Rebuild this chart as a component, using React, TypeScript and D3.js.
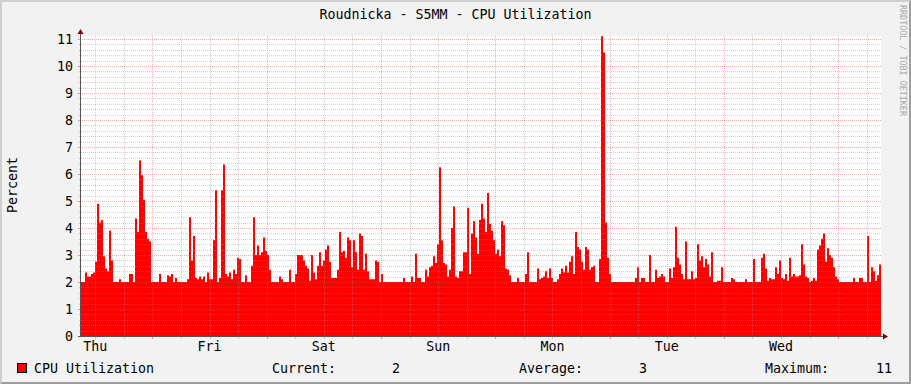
import React from "react";
import * as d3 from "d3";

// ---- data ----
const dayLabels = ["Thu", "Fri", "Sat", "Sun", "Mon", "Tue", "Wed"];
const yTicks = [0, 1, 2, 3, 4, 5, 6, 7, 8, 9, 10, 11];
const legendLabels = ["Current:", "Average:", "Maximum:"];
const legendValues = ["2", "3", "11"];
const seriesName = "CPU Utilization";
const titleText = "Roudnicka - S5MM - CPU Utilization";
const yAxisTitle = "Percent";
const watermark = "RRDTOOL / TOBI OETIKER";
// hours after Thursday 00:00 at the left edge, and span of the graph
const startHour = 9;
const spanHours = 168;

// CPU utilization samples (Thu morning .. Wed evening)
const cpuThuFri = [
  2.0, 2.0, 2.35, 2.2, 2.2, 2.3, 2.35, 2.75, 4.9, 4.2,
  4.3, 2.95, 2.5, 2.4, 3.9, 2.8, 2.0, 2.0, 2.0, 2.1,
  2.0, 2.0, 2.0, 2.0, 2.3, 2.3, 2.0, 4.35, 3.85, 6.5,
  5.95, 5.05, 3.85, 3.6, 3.5, 2.0, 2.0, 2.0, 2.0, 2.3,
  2.0, 2.0, 2.0, 2.25, 2.2, 2.3, 2.0, 2.15, 2.0, 2.0,
  2.0, 2.0, 2.0, 2.1, 4.4, 2.8, 3.7, 2.15, 2.1, 2.2,
  2.1, 2.2, 2.0, 2.35, 2.1, 2.1, 3.55, 5.4, 2.0, 2.15,
  5.4, 6.35, 2.3, 2.2, 2.35, 2.1, 2.45, 2.3, 2.9, 2.85,
  2.0, 2.0, 2.25, 2.0, 2.0, 2.6, 4.4, 3.0, 3.35, 3.0,
  3.1, 3.65, 3.15, 3.0, 2.45, 2.0, 2.0, 2.0, 2.0, 2.2,
];
const cpuSatSun = [
  2.1, 2.0, 2.0, 2.0, 2.45, 2.0, 2.0, 2.3, 3.0, 3.0,
  3.0, 2.8, 2.6, 2.5, 2.05, 3.0, 2.35, 2.1, 2.6, 3.1,
  2.6, 2.8, 3.2, 3.35, 2.75, 2.15, 2.15, 2.15, 2.45, 3.85,
  3.1, 3.15, 2.9, 3.65, 3.55, 2.55, 3.55, 3.1, 2.45, 3.8,
  3.7, 2.45, 3.05, 2.4, 2.1, 2.1, 2.1, 2.8, 2.75, 2.0,
  2.3, 2.0, 2.0, 2.0, 2.0, 2.0, 2.0, 2.0, 2.0, 2.0,
  2.0, 2.15, 2.0, 2.0, 2.0, 2.2, 2.0, 3.05, 2.15, 2.15,
  2.0, 2.0, 2.45, 2.2, 2.55, 2.6, 2.95, 2.7, 3.4, 6.25,
  3.55, 2.7, 2.65, 2.2, 2.45, 4.0, 4.8, 2.2, 2.15, 2.4,
  2.4, 3.1, 3.1, 4.75, 2.3, 3.8, 4.25, 3.65, 3.05, 4.3,
];
const cpuSunMon = [
  4.9, 4.35, 3.85, 5.3, 4.15, 3.9, 3.55, 3.05, 3.2, 2.95,
  4.25, 4.1, 2.5, 2.45, 2.25, 2.0, 2.0, 2.0, 2.15, 2.0,
  2.0, 2.0, 2.3, 3.1, 2.0, 2.0, 2.0, 2.0, 2.5, 2.1,
  2.15, 2.2, 2.4, 2.15, 2.5, 2.15, 2.0, 2.0, 2.1, 2.3,
  2.5, 2.35, 2.6, 2.35, 2.75, 2.95, 2.3, 3.85, 3.3, 3.2,
  2.75, 2.45, 3.3, 3.2, 2.45, 2.55, 2.6, 2.0, 2.0, 2.85,
  11.1, 10.5, 4.2, 2.9, 2.3, 2.0, 2.0, 2.0, 2.0, 2.0,
  2.0, 2.0, 2.0, 2.0, 2.0, 2.0, 2.0, 2.15, 2.55, 2.0,
  2.15, 2.15, 2.0, 2.0, 3.0, 2.0, 2.0, 2.45, 2.15, 2.2,
  2.3, 2.2, 2.0, 2.0, 2.5, 2.15, 2.55, 4.05, 2.9, 2.65,
];
const cpuTueWed = [
  2.3, 2.1, 3.5, 2.1, 2.1, 2.4, 2.1, 2.15, 3.4, 2.8,
  2.95, 2.55, 2.85, 2.65, 2.2, 3.1, 2.0, 2.0, 2.05, 2.05,
  2.55, 2.0, 2.0, 2.0, 2.0, 2.15, 2.1, 2.0, 2.0, 2.0,
  2.0, 2.0, 2.1, 2.0, 2.0, 2.0, 2.85, 2.0, 2.0, 2.0,
  2.9, 3.05, 2.5, 2.05, 2.15, 2.1, 2.1, 2.55, 2.3, 2.8,
  2.15, 2.1, 2.3, 2.05, 2.9, 2.2, 2.3, 2.2, 2.2, 2.25,
  3.4, 2.65, 2.2, 2.15, 2.0, 2.05, 2.15, 2.05, 3.2, 3.35,
  3.6, 3.8, 2.75, 3.25, 3.0, 2.9, 2.55, 2.2, 2.1, 2.0,
  2.0, 2.0, 2.0, 2.0, 2.0, 2.0, 2.15, 2.0, 2.0, 2.15,
  2.15, 2.0, 2.0, 3.7, 2.0, 2.55, 2.4, 2.05, 2.25, 2.65,
];
const cpu = [...cpuThuFri, ...cpuSatSun, ...cpuSunMon, ...cpuTueWed];

const FONT = "'DejaVu Sans Mono', monospace";

export default function App() {
  const W = 911, H = 384;
  const L = 81, R = 881, T = 36, B = 336;

  const xTime = d3.scaleLinear().domain([startHour, startHour + spanHours]).range([L, R]);
  const xIdx = d3.scaleLinear().domain([0, cpu.length]).range([L, R]);
  const y = d3.scaleLinear().domain([0, 300 / 27]).range([B, T]);

  const pts: [number, number][] = cpu.map((v, i) => [i, v] as [number, number]);
  pts.push([cpu.length, cpu[cpu.length - 1]]);
  const areaGen = d3
    .area<[number, number]>()
    .x((d) => xIdx(d[0]))
    .y0(B)
    .y1((d) => y(d[1]))
    .curve(d3.curveStepAfter);

  const minorY: number[] = [];
  for (let k = 1; k <= 55; k++) if (k % 5 !== 0) minorY.push(k / 5);
  const majorY = yTicks.filter((v) => v > 0);

  const hours6 = d3.range(12, startHour + spanHours, 6);
  const minorX = hours6.filter((h) => h % 24 !== 0);
  const majorX = hours6.filter((h) => h % 24 === 0);

  const snap = (v: number) => Math.round(v) + 0.5;

  const minorCol = "rgba(143,143,143,0.42)";
  const majorCol = "rgba(222,79,79,0.45)";

  return (
    <svg
      width={W}
      height={H}
      style={{ position: "fixed", left: 0, top: 0, display: "block" }}
      fontFamily={FONT}
    >
      {/* canvas + shading */}
      <rect x={0} y={0} width={W} height={H} fill="#F2F2F2" />
      <polygon points={`0,0 ${W},0 ${W - 2},2 2,2 2,${H - 2} 0,${H}`} fill="#CFCFCF" />
      <polygon points={`${W},0 ${W},${H} 0,${H} 2,${H - 2} ${W - 2},${H - 2} ${W - 2},2`} fill="#9E9E9E" />

      {/* plot area */}
      <rect x={L} y={T} width={R - L} height={B - T} fill="#FFFFFF" />

      {/* data */}
      <path d={areaGen(pts) || ""} fill="#FF0000" />

      {/* grid */}
      <g strokeWidth={1} shapeRendering="crispEdges">
        {minorY.map((v) => (
          <line key={"my" + v} x1={L - 2} x2={R} y1={snap(y(v))} y2={snap(y(v))} stroke={minorCol} strokeDasharray="1,1" />
        ))}
        {minorX.map((h) => (
          <line key={"mx" + h} x1={snap(xTime(h))} x2={snap(xTime(h))} y1={T} y2={B + 3} stroke={minorCol} strokeDasharray="1,1" />
        ))}
        {majorY.map((v) => (
          <line key={"My" + v} x1={L - 3} x2={R} y1={snap(y(v))} y2={snap(y(v))} stroke={majorCol} strokeDasharray="1,1" />
        ))}
        {majorX.map((h) => (
          <line key={"Mx" + h} x1={snap(xTime(h))} x2={snap(xTime(h))} y1={T} y2={B + 3} stroke={majorCol} strokeDasharray="1,1" />
        ))}
        {majorY.map((v) => (
          <line key={"ty" + v} x1={L - 3} x2={L} y1={snap(y(v))} y2={snap(y(v))} stroke={majorCol} />
        ))}
        {majorX.map((h) => (
          <line key={"tx" + h} x1={snap(xTime(h))} x2={snap(xTime(h))} y1={B} y2={B + 3} stroke={majorCol} />
        ))}
        {minorX.map((h) => (
          <line key={"tm" + h} x1={snap(xTime(h))} x2={snap(xTime(h))} y1={B} y2={B + 2} stroke={minorCol} />
        ))}
      </g>

      {/* axes */}
      <g shapeRendering="crispEdges">
        <line x1={L - 0.5} x2={L - 0.5} y1={B + 1} y2={T - 3} stroke="#555555" />
        <line x1={L - 3} x2={R + 3} y1={B + 0.5} y2={B + 0.5} stroke="#555555" />
      </g>
      <polygon points={`${L - 0.5},${T - 7} ${L - 3.5},${T - 2} ${L + 2.5},${T - 2}`} fill="#7F0000" />
      <polygon points={`${R + 7},${B + 0.5} ${R + 2},${B - 2.5} ${R + 2},${B + 3.5}`} fill="#7F0000" />

      {/* y tick labels */}
      {yTicks.map((v) => (
        <text key={"yl" + v} x={73} y={Math.round(y(v)) + 5} textAnchor="end" fontSize={13.3} fill="#000">
          {v}
        </text>
      ))}

      {/* x day labels at noon */}
      {dayLabels.map((d, i) => (
        <text key={d} x={xTime(12 + 24 * i)} y={351} textAnchor="middle" fontSize={13.3} fill="#000">
          {d}
        </text>
      ))}

      {/* title */}
      <text x={W / 2} y={19} textAnchor="middle" fontSize={13.3} fill="#000">
        {titleText}
      </text>

      {/* y axis title */}
      <text transform={`translate(17,185) rotate(-90)`} textAnchor="middle" fontSize={13.3} fill="#000">
        {yAxisTitle}
      </text>

      {/* watermark */}
      <text transform={`translate(900,5) rotate(90)`} fontSize={8.4} fill="#A8A8A8">
        {watermark}
      </text>

      {/* legend */}
      <rect x={17.5} y={363.5} width={9} height={9} fill="#FF0000" stroke="#000" strokeWidth={1} />
      <text x={34} y={373} fontSize={13.3} fill="#000">{seriesName}</text>
      {[272, 519, 765].map((xx, i) => (
        <text key={"lg" + i} x={xx} y={373} fontSize={13.3} fill="#000">{legendLabels[i]}</text>
      ))}
      {[392, 639, 876].map((xx, i) => (
        <text key={"lv" + i} x={xx} y={373} fontSize={13.3} fill="#000">{legendValues[i]}</text>
      ))}
    </svg>
  );
}
